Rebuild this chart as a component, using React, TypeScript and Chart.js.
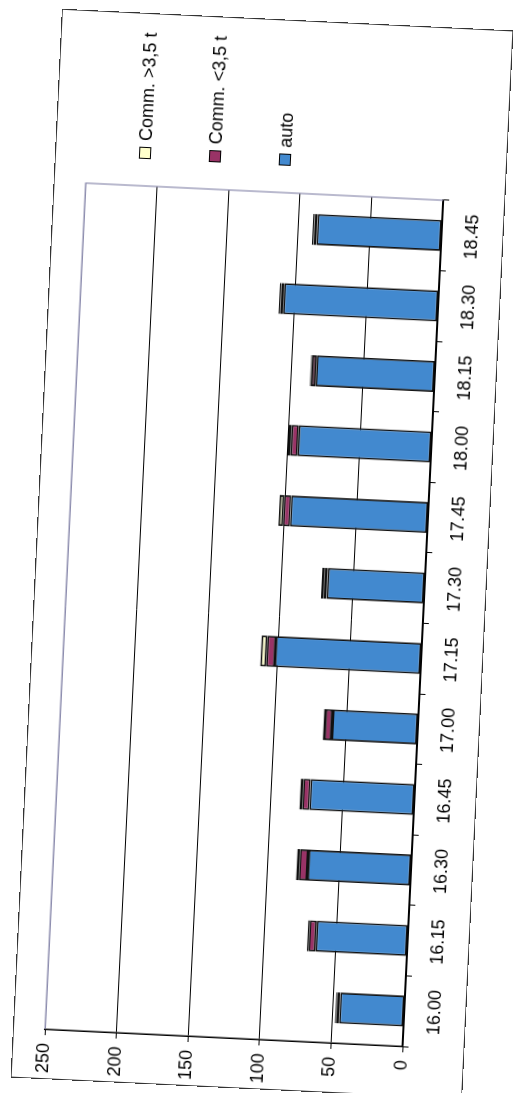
import React, { useEffect, useRef } from 'react';
import { Chart, registerables } from 'chart.js';

Chart.register(...registerables);

// ---- data ----
const categories = ['16.00', '16.15', '16.30', '16.45', '17.00', '17.15', '17.30', '17.45', '18.00', '18.15', '18.30', '18.45'];
const autoValues = [45, 64, 72, 73, 60, 102, 68, 96, 93, 83, 108, 87];
const commSmallValues = [2, 5, 6, 5, 5, 6, 2, 5, 5, 3, 2, 2];
const commLargeValues = [1, 1, 2, 2, 1, 4, 2, 3, 2, 1, 1, 1];
const valueTicks = [0, 50, 100, 150, 200, 250];
const seriesNames = ['auto', 'Comm. <3,5 t', 'Comm. >3,5 t'];
const seriesColors = ['#4289cf', '#993366', '#ffffcc'];
const legendOrder = [2, 1, 0];

// ---- layout (unrotated chart frame) ----
const W = 1070;
const H = 452;
const FONT = '"Liberation Sans", Arial, sans-serif';

export default function App() {
  const canvasRef = useRef<HTMLCanvasElement | null>(null);

  useEffect(() => {
    const canvas = canvasRef.current;
    if (!canvas) return;
    const seriesData = [autoValues, commSmallValues, commLargeValues];
    const plotBorder = {
      id: 'plotBorder',
      beforeDatasetsDraw(chart: any) {
        const { ctx, chartArea } = chart;
        ctx.save();
        ctx.strokeStyle = '#8c8cae';
        ctx.lineWidth = 1.2;
        ctx.beginPath();
        ctx.moveTo(chartArea.left, chartArea.top);
        ctx.lineTo(chartArea.right, chartArea.top);
        ctx.lineTo(chartArea.right, chartArea.bottom);
        ctx.stroke();
        ctx.restore();
      },
    };
    const chart = new Chart(canvas, {
      type: 'bar',
      data: {
        labels: categories,
        datasets: seriesData.map((d, i) => ({
          label: seriesNames[i],
          data: d,
          backgroundColor: seriesColors[i],
          borderColor: '#111',
          borderWidth: 1.8,
          borderSkipped: false,
          barPercentage: 0.44,
          categoryPercentage: 1,
        })),
      },
      options: {
        responsive: false,
        animation: false,
        devicePixelRatio: 1,
        layout: { padding: { top: 32, right: 173, left: 0, bottom: 0 } },
        plugins: { legend: { display: false }, tooltip: { enabled: false } },
        scales: {
          x: {
            stacked: true,
            grid: {
              display: true,
              drawOnChartArea: false,
              drawTicks: true,
              tickLength: 6,
              tickColor: '#000',
              offset: true,
            },
            border: { display: true, color: '#000', width: 1.5 },
            ticks: {
              color: '#000',
              font: { family: FONT, size: 18 },
              padding: 14,
              maxRotation: 0,
              minRotation: 0,
              autoSkip: false,
            },
            afterFit: (s: any) => {
              s.height = 62;
            },
          },
          y: {
            stacked: true,
            min: 0,
            max: 250,
            afterBuildTicks: (s: any) => {
              s.ticks = valueTicks.map((v) => ({ value: v }));
            },
            grid: {
              color: (c: any) => (c.tick && c.tick.value === 250 ? '#8c8cae' : '#000'),
              lineWidth: 1,
              drawTicks: true,
              tickLength: 6,
              tickColor: '#000',
            },
            border: { display: true, color: '#000', width: 1.5 },
            ticks: {
              color: '#000',
              font: { family: FONT, size: 18 },
              padding: 8,
            },
            afterFit: (s: any) => {
              s.width = 50;
            },
          },
        },
      },
      plugins: [plotBorder],
    });
    return () => chart.destroy();
  }, []);

  const legendTops = [90, 160, 230];

  return (
    <div style={{ position: 'fixed', left: 0, top: 0, width: 514, height: 1093, overflow: 'hidden', background: '#fff' }}>
      <div
        style={{
          position: 'absolute',
          left: 262 - W / 2,
          top: 553.5 - H / 2,
          width: W,
          height: H,
          transform: 'rotate(-87.25deg)',
          transformOrigin: '50% 50%',
          background: '#fff',
        }}
      >
        <canvas ref={canvasRef} width={W} height={H} style={{ position: 'absolute', left: 0, top: 0, width: W, height: H }} />
        {legendOrder.map((si, k) => (
          <div key={si} style={{ position: 'absolute', left: 924, top: legendTops[k] - 11, height: 22, display: 'flex', alignItems: 'center' }}>
            <div style={{ width: 10, height: 10, background: seriesColors[si], border: '1.5px solid #000' }} />
            <span style={{ marginLeft: 6, fontFamily: FONT, fontSize: 18, color: '#000', whiteSpace: 'nowrap', lineHeight: '22px' }}>
              {seriesNames[si]}
            </span>
          </div>
        ))}
        <div style={{ position: 'absolute', left: 0, top: 0, width: W, height: H, boxSizing: 'border-box', border: '1.5px solid #333', pointerEvents: 'none' }} />
      </div>
    </div>
  );
}
